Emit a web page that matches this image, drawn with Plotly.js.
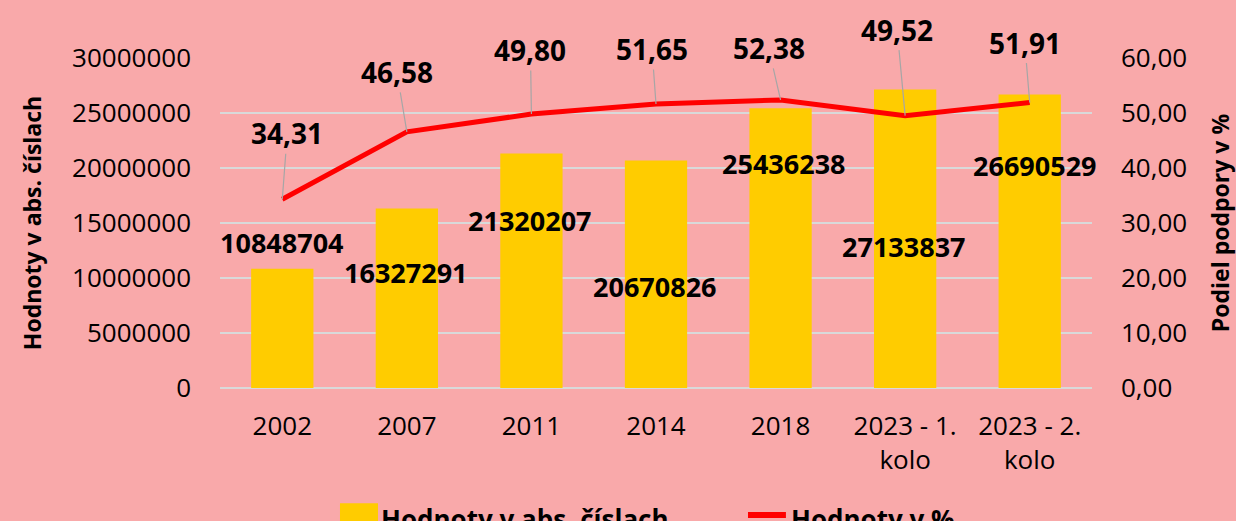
<!DOCTYPE html>
<html>
<head>
<meta charset="utf-8">
<script src="https://cdn.plot.ly/plotly-3.0.1.min.js"></script>
<style>
html,body{margin:0;padding:0;background:#F9A9AA;}
#chart{width:1236px;height:521px;}
</style>
</head>
<body>
<div id="chart"></div>
<script>
// ---- data ----
var categories = ["2002", "2007", "2011", "2014", "2018", "2023 - 1.<br>kolo", "2023 - 2.<br>kolo"];
var absValues = [10848704, 16327291, 21320207, 20670826, 25436238, 27133837, 26690529];
var pctValues = [34.31, 46.58, 49.80, 51.65, 52.38, 49.52, 51.91];
var seriesAbsName = "Hodnoty v abs. číslach";
var seriesPctName = "Hodnoty v %";
var yTitleLeft = "Hodnoty v abs. číslach";
var yTitleRight = "Podiel podpory v %";

// ---- label placement (pixel offsets, Excel-like custom positions) ----
var barLabelShift = [[0, 26], [-1, -64], [-1, -67], [-1, -126], [3, -55], [-1, -157], [5, -71]];
var pctLabelOffset = [[5, -66], [-10, -60], [-1, -64], [-4, -55], [-12, -52], [-8, -86], [-5, -60]];

var FONT = "Open Sans, Noto Sans, sans-serif";

var traces = [
  {
    type: "bar",
    name: seriesAbsName,
    x: categories,
    y: absValues,
    marker: {color: "#FFCC00"},
    yaxis: "y",
    hoverinfo: "skip"
  },
  {
    type: "scatter",
    mode: "lines",
    name: seriesPctName,
    x: categories,
    y: pctValues,
    line: {color: "#FF0000", width: 5},
    yaxis: "y2",
    hoverinfo: "skip"
  }
];

var annotations = [];
absValues.forEach(function (v, i) {
  annotations.push({
    xref: "x", yref: "y", x: i, y: v,
    text: "<b>" + String(v) + "</b>",
    showarrow: false,
    xshift: barLabelShift[i][0], yshift: barLabelShift[i][1],
    font: {family: FONT, size: 27, color: "#000000"}
  });
});
pctValues.forEach(function (v, i) {
  annotations.push({
    xref: "x", yref: "y2", x: i, y: v,
    text: "<b>" + v.toFixed(2).replace(".", ",") + "</b>",
    showarrow: true, arrowhead: 0, arrowwidth: 1.2, arrowcolor: "#A6A6A6",
    ax: pctLabelOffset[i][0], ay: pctLabelOffset[i][1],
    font: {family: FONT, size: 28, color: "#000000"}
  });
});

// custom legend (text)
annotations.push({
  xref: "paper", yref: "paper", x: 0.182, y: -0.335, xanchor: "left", yanchor: "top",
  text: "<b>" + seriesAbsName + "</b>", showarrow: false,
  font: {family: FONT, size: 26, color: "#000000"}
});
annotations.push({
  xref: "paper", yref: "paper", x: 0.652, y: -0.335, xanchor: "left", yanchor: "top",
  text: "<b>" + seriesPctName + "</b>", showarrow: false,
  font: {family: FONT, size: 26, color: "#000000"}
});

var shapes = [
  {type: "rect", xref: "paper", yref: "paper", x0: 0.1376, x1: 0.1812, y0: -0.349, y1: -0.41,
   fillcolor: "#FFCC00", line: {width: 0}},
  {type: "line", xref: "paper", yref: "paper", x0: 0.6055, x1: 0.6490, y0: -0.385, y1: -0.385,
   line: {color: "#FF0000", width: 6}}
];

var layout = {
  width: 1236, height: 521,
  paper_bgcolor: "#F9A9AA",
  plot_bgcolor: "rgba(0,0,0,0)",
  margin: {l: 220, r: 144, t: 58, b: 133, pad: 0},
  separators: ", ",
  showlegend: false,
  bargap: 0.5,
  font: {family: FONT, size: 26, color: "#000000"},
  xaxis: {
    type: "category",
    range: [-0.5, 6.5],
    autorange: false,
    tickfont: {family: FONT, size: 26, color: "#000000"},
    ticks: "", showgrid: false, showline: false, zeroline: false,
    ticklabelstandoff: 20,
    fixedrange: true
  },
  yaxis: {
    range: [0, 30000000],
    autorange: false,
    tickvals: [0, 5000000, 10000000, 15000000, 20000000, 25000000, 30000000],
    tickformat: "d",
    showgrid: true, gridcolor: "#D9D9D9", gridwidth: 1.5,
    zeroline: true, zerolinecolor: "#D9D9D9", zerolinewidth: 1.5,
    showline: false, ticks: "",
    ticklabelstandoff: 28,
    tickfont: {family: FONT, size: 26, color: "#000000"},
    title: {text: "<b>" + yTitleLeft + "</b>", standoff: 24,
            font: {family: FONT, size: 23, color: "#000000"}},
    fixedrange: true
  },
  yaxis2: {
    overlaying: "y", side: "right",
    range: [0, 60],
    autorange: false,
    tickvals: [0, 10, 20, 30, 40, 50, 60],
    tickformat: ".2f",
    showgrid: false, zeroline: false, showline: false, ticks: "",
    ticklabelstandoff: 28,
    tickfont: {family: FONT, size: 26, color: "#000000"},
    title: {text: "<b>" + yTitleRight + "</b>", standoff: 29,
            font: {family: FONT, size: 23, color: "#000000"}},
    fixedrange: true
  },
  annotations: annotations,
  shapes: shapes
};

Plotly.newPlot("chart", traces, layout, {displayModeBar: false, staticPlot: true});
</script>
</body>
</html>
